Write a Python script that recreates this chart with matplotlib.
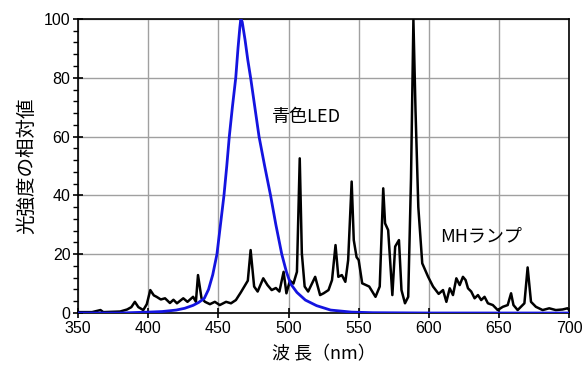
import matplotlib
matplotlib.use("Agg")
import matplotlib.pyplot as plt
import numpy as np
from matplotlib.ticker import MultipleLocator

plt.rcParams['font.family'] = ['Liberation Sans', 'Noto Sans CJK JP', 'DejaVu Sans']

# MH lamp spectrum (wavelength nm, relative intensity)
mh_nm = [350, 360, 366, 368, 380, 385, 388, 390.5, 393, 396.5, 399, 401.5, 404, 406, 409, 412,
         415.5, 418, 420.5, 425, 428, 432, 434, 435.5, 438, 440.5, 444, 447.5, 451, 455.5, 459,
         462.5, 466, 468.5, 471, 473, 475.5, 478, 482, 485, 488, 491, 493.5, 496.5, 498.5, 501,
         503.5, 506, 508, 509.5, 511.5, 514, 519, 522.5, 525, 528.5, 531, 533.5, 535.5, 538,
         540.5, 542.5, 545, 546.5, 548.5, 550, 552.5, 557.5, 562, 565, 567.5, 568.8, 571, 574,
         576, 578.7, 580.5, 583, 585.3, 587.3, 589, 590.5, 592.5, 595.3, 599.5, 603, 607, 610.1,
         612.5, 614.9, 617.2, 619.6, 622, 624.3, 626.2, 627.9, 630.2, 632.6, 635, 637.3, 639.7,
         642.1, 645.6, 649.1, 652.7, 656.2, 658.6, 660.3, 663.3, 668.1, 670.4, 672.8, 676.3,
         681.1, 685.8, 690.5, 695.3, 698.8, 700]
mh_val = [0.3, 0.3, 1.0, 0.3, 0.5, 1.2, 2, 3.8, 2, 1, 3, 7.8, 6, 5.5, 4.6, 5,
          3.4, 4.5, 3.3, 5, 3.8, 5.5, 3.8, 12.9, 5, 3.8, 3, 3.8, 2.7, 3.8, 3.3,
          4.4, 7, 9, 11, 21.4, 9, 7.3, 11.8, 9.5, 7.8, 8.5, 7.3, 14, 6.7, 11,
          10, 14, 52.6, 20.3, 9, 7.3, 12.3, 6.1, 6.7, 7.8, 11.2, 23.1, 12.3, 12.9,
          10.6, 18, 44.7, 24.8, 19, 18, 10.1, 9, 5.5, 9, 42.4, 30.5, 28.2, 6.1,
          22.6, 24.8, 7.8, 3.3, 5.5, 46, 99.7, 69, 36, 16.9, 12.3, 9, 6.5, 7.8,
          3.8, 8.4, 6.1, 11.8, 9.5, 12.3, 11.2, 8.4, 7.3, 5, 6.1, 4.4, 5.5,
          3.3, 2.7, 1, 2.1, 2.7, 6.7, 2.7, 1, 3.3, 15.5, 3.8, 2.1,
          1, 1.6, 1, 1.2, 1.6, 1]

# blue LED spectrum
led_nm = [350, 380, 400, 410, 420, 426, 432, 436, 440, 443, 446, 449, 451.5, 454, 456, 457.8,
          460, 462.4, 464, 465.3, 466, 467, 469, 471, 473, 476, 479, 483, 487.2, 491, 495.2,
          498.5, 501.4, 506, 512, 520, 530, 545, 560, 600, 700]
led_val = [0, 0, 0.3, 0.5, 1, 1.6, 2.6, 3.6, 5, 8, 13, 20, 30, 40, 50, 60,
           70, 80, 90, 97, 100, 99, 93, 86, 80, 70, 60, 50, 40, 30, 20,
           14, 10, 7, 4.4, 2.5, 1, 0.3, 0.1, 0, 0]

fig = plt.figure(figsize=(5.84, 3.72), dpi=100)
ax = fig.add_axes([0.1336, 0.1586, 0.841, 0.7904])

ax.plot(mh_nm, mh_val, color='black', lw=1.8, zorder=3)
ax.plot(led_nm, led_val, color='#1414e0', lw=2.0, zorder=4)

ax.set_xlim(350, 700)
ax.set_ylim(0, 100)
ax.xaxis.set_major_locator(MultipleLocator(50))
ax.yaxis.set_major_locator(MultipleLocator(20))
ax.yaxis.set_minor_locator(MultipleLocator(4))
ax.grid(True, which='major', color='#a0a0a0', lw=1.0, zorder=1)
ax.tick_params(which='major', direction='inout', length=7, width=1.2, labelsize=11.5, pad=2)
ax.tick_params(axis='y', which='minor', direction='out', length=3.5, width=1.0)
for s in ax.spines.values():
    s.set_linewidth(1.2)

ax.text(488, 66.5, '青色LED', fontsize=13, family=['Noto Sans CJK JP'], va='center')
ax.text(608, 26, 'MHランプ', fontsize=13, family=['Noto Sans CJK JP'], va='center')

ax.set_ylabel('光強度の相対値', fontsize=14, family=['Noto Sans CJK JP'], labelpad=5)
ax.set_xlabel('波 長（nm）', fontsize=13, family=['Noto Sans CJK JP'], labelpad=7)

fig.savefig('out.png', dpi=100)
